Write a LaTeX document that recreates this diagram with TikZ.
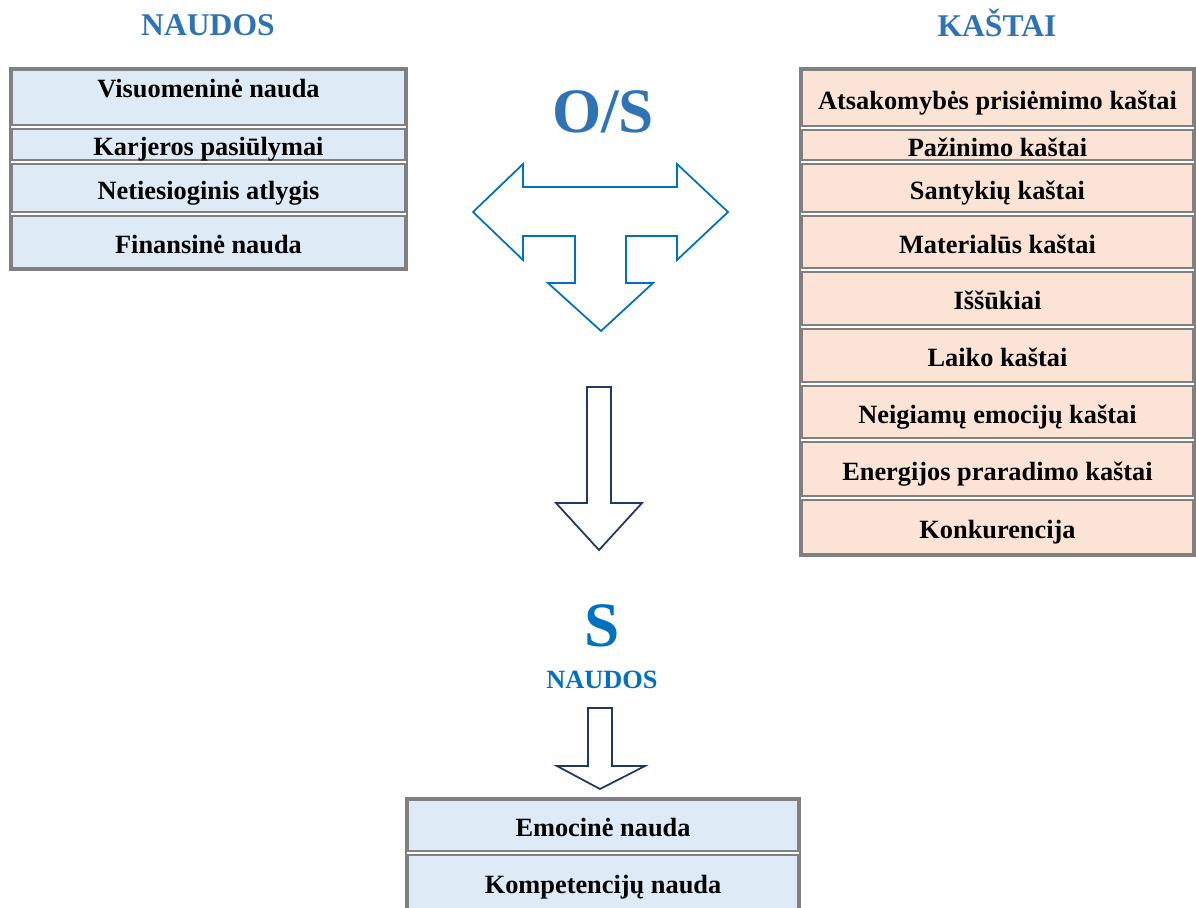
\documentclass[tikz,border=0pt]{standalone}
\usepackage{fontspec}
\setmainfont{Liberation Serif}
\usetikzlibrary{positioning}
\definecolor{titleblue}{HTML}{2E74B5}
\definecolor{sblue}{HTML}{0070C0}
\definecolor{arrowblue}{HTML}{0070C0}
\definecolor{navy}{HTML}{1F3864}
\definecolor{tblgray}{HTML}{808080}
\definecolor{naudafill}{HTML}{DEEAF6}
\definecolor{kastaifill}{HTML}{FBE4D5}
\tikzset{
  cell/.style={rectangle, draw=tblgray, line width=1.2pt, outer sep=1.2pt, inner sep=0pt,
    text height=13pt, text depth=0pt,
    font=\fontsize{15}{18}\selectfont\bfseries, minimum width={#1*0.02cm-2.4pt}},
  rowh/.style={minimum height={#1*0.02cm-2.4pt}},
  naudacell/.style={cell=397, fill=naudafill},
  kastaicell/.style={cell=395, fill=kastaifill},
  tblframe/.style={draw=tblgray, line width=1.2pt},
  headtitle/.style={text=titleblue, font=\fontsize{18}{22}\selectfont\bfseries},
  bigletter/.style={font=\fontsize{36}{40}\selectfont\bfseries},
  blockarrow/.style={line width=1pt, line join=miter}
}
\begin{document}
\begin{tikzpicture}[x=0.02cm, y=-0.02cm]
\useasboundingbox (0,0) rectangle (1196,907);
\node[headtitle] (naudosT) at (208,25) {NAUDOS};
\node[headtitle] (kastaiT) at (997,23) {KAŠTAI};
\node[bigletter, text=titleblue] (os) at (603,112) {O/S};
\node[bigletter, text=sblue] (s) at (602,626) {S};
\node[text=sblue, font=\fontsize{15}{18}\selectfont\bfseries] (sNaudos) at (602,680) {NAUDOS};

\node[naudacell, rowh=59, anchor=north, text depth=12.5pt] (v1) at (208.5,68) {Visuomeninė nauda};
\node[naudacell, rowh=35, below=0pt of v1] (v2) {Karjeros pasiūlymai};
\node[naudacell, rowh=52, below=0pt of v2] (v3) {Netiesioginis atlygis};
\node[naudacell, rowh=56, below=0pt of v3] (v4) {Finansinė nauda};
\draw[tblframe] (v1.north west) rectangle (v4.south east);

\node[kastaicell, rowh=60, anchor=north] (k1) at (997.5,68) {Atsakomybės prisiėmimo kaštai};
\node[kastaicell, rowh=34, below=0pt of k1] (k2) {Pažinimo kaštai};
\node[kastaicell, rowh=52, below=0pt of k2] (k3) {Santykių kaštai};
\node[kastaicell, rowh=56, below=0pt of k3] (k4) {Materialūs kaštai};
\node[kastaicell, rowh=57, below=0pt of k4] (k5) {Iššūkiai};
\node[kastaicell, rowh=57, below=0pt of k5] (k6) {Laiko kaštai};
\node[kastaicell, rowh=56, below=0pt of k6] (k7) {Neigiamų emocijų kaštai};
\node[kastaicell, rowh=58, below=0pt of k7] (k8) {Energijos praradimo kaštai};
\node[kastaicell, rowh=58, below=0pt of k8] (k9) {Konkurencija};
\draw[tblframe] (k1.north west) rectangle (k9.south east);

\node[naudacell, minimum width={394*0.02cm-2.4pt}, rowh=55, anchor=north] (e1) at (603,798) {Emocinė nauda};
\node[naudacell, minimum width={394*0.02cm-2.4pt}, rowh=58, below=0pt of e1] (e2) {Kompetencijų nauda};
\draw[tblframe] (e1.north west) rectangle (e2.south east);

\draw[blockarrow, arrowblue] (473,212) -- (523,164) -- (523,187) -- (677,187) -- (677,164) -- (728,212)
  -- (677,260) -- (677,236) -- (626,236) -- (626,283) -- (653,283) -- (601,331) -- (548,283)
  -- (575,283) -- (575,236) -- (523,236) -- (523,260) -- cycle;
\draw[blockarrow, navy] (587,387) -- (611,387) -- (611,503) -- (642,503) -- (599,550) -- (556,503) -- (587,503) -- cycle;
\draw[blockarrow, navy] (588,708) -- (612,708) -- (612,766) -- (645,766) -- (600,789) -- (557,766) -- (588,766) -- cycle;
\end{tikzpicture}
\end{document}
